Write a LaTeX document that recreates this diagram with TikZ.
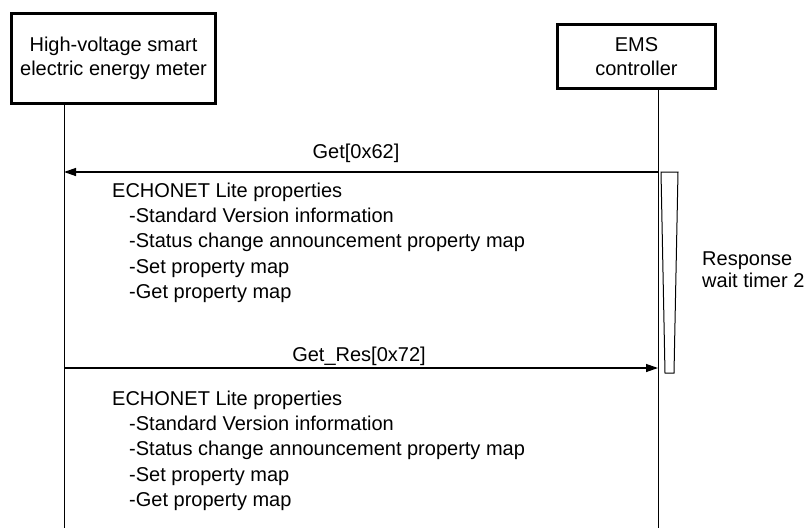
\documentclass[tikz,border=0pt]{standalone}
\usepackage{fontspec}
\setmainfont{Liberation Sans}
\usetikzlibrary{arrows.meta}
\tikzset{
  actor/.style={draw, line width=3.2pt, align=center, inner sep=0pt,
    font=\fontsize{20}{24}\selectfont},
  lifeline/.style={line width=1pt},
  msg/.style={line width=1.3pt, -{Triangle[length=12pt,width=8pt]}},
  lbl/.style={font=\fontsize{20}{24}\selectfont, inner sep=0pt},
  txt/.style={font=\fontsize{20}{24}\selectfont, inner sep=0pt, anchor=base west},
  timer/.style={line width=1pt}
}
\begin{document}
\begin{tikzpicture}[x=1pt,y=-1pt]
\useasboundingbox (0,0) rectangle (809,528);
% actors
\node[actor, minimum width=203.5pt, minimum height=89.5pt] (meter) at (113.5,58.5)
  {High-voltage smart\\electric energy meter};
\node[actor, minimum width=158pt, minimum height=64pt] (ems) at (636.5,56.5)
  {EMS\\controller};
% lifelines
\coordinate (m-top) at (64,103);
\coordinate (m-bot) at (64,528);
\coordinate (e-top) at (658,88);
\coordinate (e-bot) at (658,528);
\draw[lifeline] (m-top) -- (m-bot);
\draw[lifeline] (e-top) -- (e-bot);
% messages
\coordinate (get-s) at (658,172);
\coordinate (get-e) at (64,172);
\draw[msg] (get-s) -- (get-e);
\node[lbl] (get-l) at (356,153) {Get[0x62]};
\coordinate (res-s) at (64,368);
\coordinate (res-e) at (658,368);
\draw[msg] (res-s) -- (res-e);
\node[lbl] (res-l) at (359,356) {Get\_Res[0x72]};
% timer
\coordinate (t1) at (661,172);
\coordinate (t2) at (678,172);
\coordinate (t3) at (674,373);
\coordinate (t4) at (665,373);
\draw[timer] (t1) -- (t2) -- (t3) -- (t4) -- cycle;
\node[txt] (tim1) at (702,265) {Response};
\node[txt] (tim2) at (702,287) {wait timer 2};
% property blocks
\node[txt] (a0) at (112,197) {ECHONET Lite properties};
\node[txt] (a1) at (129,222) {-Standard Version information};
\node[txt] (a2) at (129,247) {-Status change announcement property map};
\node[txt] (a3) at (129,273) {-Set property map};
\node[txt] (a4) at (129,298) {-Get property map};
\node[txt] (b0) at (112,405) {ECHONET Lite properties};
\node[txt] (b1) at (129,430) {-Standard Version information};
\node[txt] (b2) at (129,455) {-Status change announcement property map};
\node[txt] (b3) at (129,481) {-Set property map};
\node[txt] (b4) at (129,506) {-Get property map};
\end{tikzpicture}
\end{document}
